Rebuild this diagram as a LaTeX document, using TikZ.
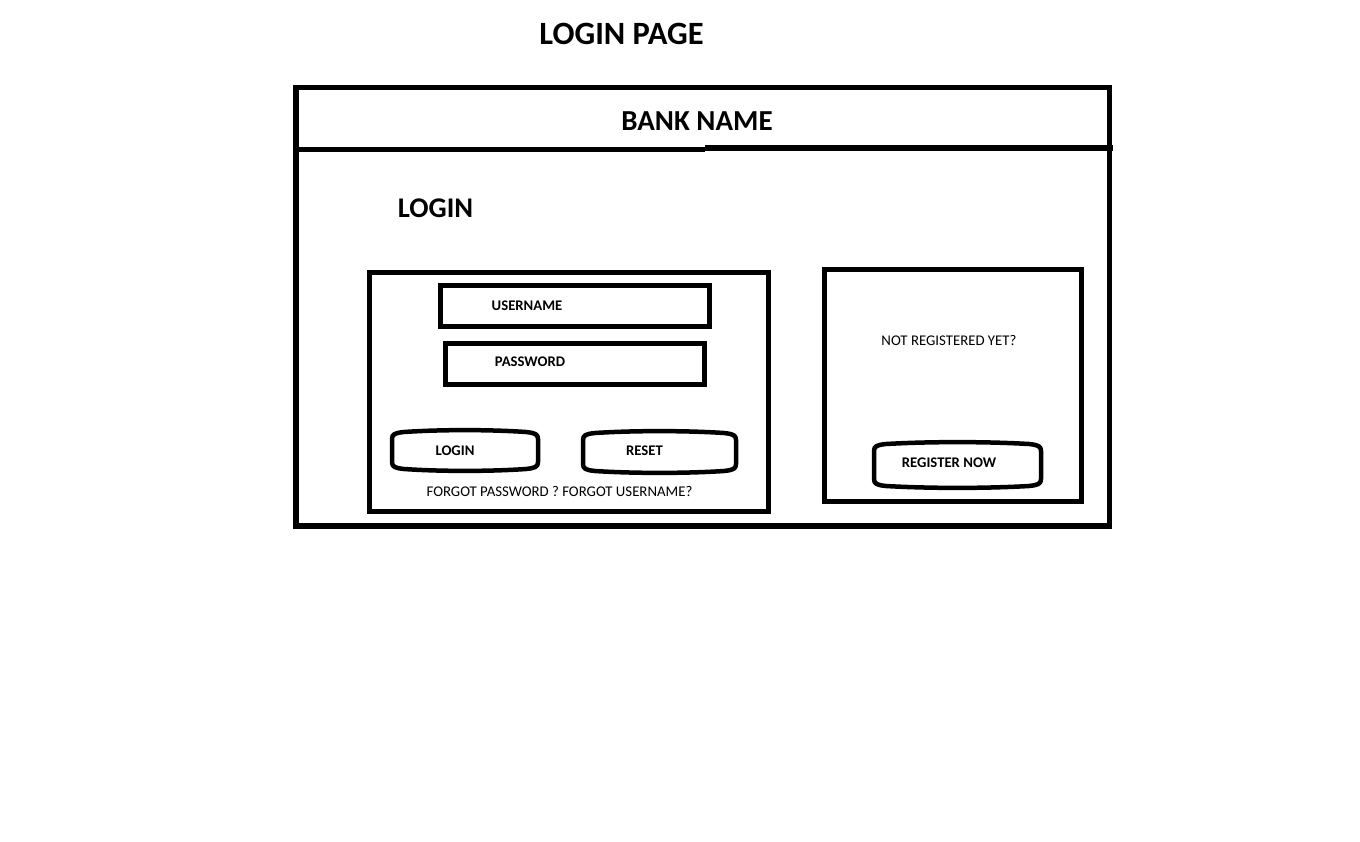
\documentclass[tikz,border=0pt]{standalone}
\usepackage{fontspec}
\setmainfont{Carlito}
% barrel-shaped button: #1,#2 = left/top, #3,#4 = right/bottom
\newcommand\drawbutton[4]{%
  \draw[btn] (#1,#4-6) -- (#1,#2+6)
    .. controls (#1,#2+1) and (#1+3,#2) .. (#1+12,#2-1)
    .. controls (#1+0.33*#3-0.33*#1,#2-3.5) and (#3-0.33*#3+0.33*#1,#2-3.5) .. (#3-12,#2-1)
    .. controls (#3-3,#2) and (#3,#2+1) .. (#3,#2+6)
    -- (#3,#4-6)
    .. controls (#3,#4-1) and (#3-3,#4) .. (#3-12,#4+1)
    .. controls (#3-0.33*#3+0.33*#1,#4+3.5) and (#1+0.33*#3-0.33*#1,#4+3.5) .. (#1+12,#4+1)
    .. controls (#1+3,#4) and (#1,#4-1) .. cycle;}
\begin{document}
\begin{tikzpicture}[x=1pt,y=-1pt,
  frame/.style={line width=5.5pt},
  panel/.style={line width=5pt},
  field/.style={line width=5pt},
  btn/.style={line width=4.5pt,line join=round},
  titletxt/.style={font=\fontsize{32.5}{36}\selectfont\bfseries,inner sep=0pt},
  bigtxt/.style={font=\fontsize{29}{33}\selectfont\bfseries,inner sep=0pt},
  headtxt/.style={font=\fontsize{28.5}{32}\selectfont\bfseries,inner sep=0pt},
  smalltxt/.style={font=\fontsize{14.8}{17}\selectfont,inner sep=0pt},
  smallbold/.style={font=\fontsize{14.7}{17}\selectfont\bfseries,inner sep=0pt}]
\useasboundingbox[fill=white] (0,0) rectangle (1360,841);

% page title
\node[titletxt] (title) at (621.5,34) {LOGIN PAGE};

% outer window with header bar
\draw[frame] (296,87.5) rectangle (1109.5,526);
\draw[frame] (296,149.5) -- (705,149.5);
\draw[frame] (705,148) -- (1113,148);
\node[bigtxt] (bank) at (697,121) {BANK NAME};

% section heading
\node[headtxt] (loginhead) at (435.5,208) {LOGIN};

% login panel
\draw[panel] (369,272) rectangle (768,511);
\draw[field] (440,285) rectangle (709,326);
\node[smallbold] (user) at (527,306) {USERNAME};
\draw[field] (445,343) rectangle (704,384);
\node[smallbold] (pass) at (530,362) {PASSWORD};

\drawbutton{392}{433}{538}{468}
\node[smallbold] (loginbtn) at (455,451) {LOGIN};
\drawbutton{583}{434}{736}{470}
\node[smallbold] (reset) at (644.5,451) {RESET};
\node[smalltxt] (forgot) at (559.5,491) {FORGOT PASSWORD ? FORGOT USERNAME?};

% registration panel
\draw[panel] (824.5,269) rectangle (1081,501);
\node[smalltxt] (notreg) at (949,340) {NOT REGISTERED YET?};
\drawbutton{874}{445}{1041}{485}
\node[smallbold] (register) at (949,463) {REGISTER NOW};
\end{tikzpicture}
\end{document}
